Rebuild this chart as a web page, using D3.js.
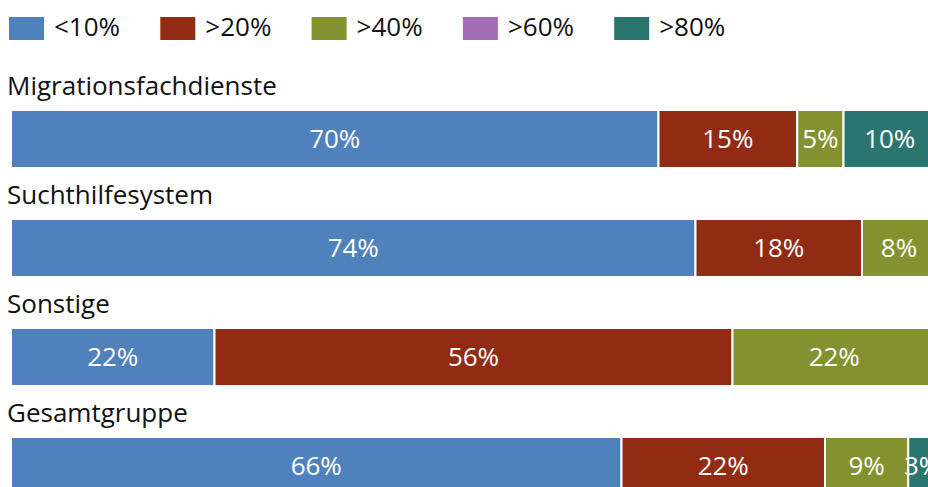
<!DOCTYPE html>
<html>
<head>
<meta charset="utf-8">
<script src="https://cdn.jsdelivr.net/npm/d3@7"></script>
<style>
  body { margin: 0; background: #fff; overflow: hidden; }
  text { font-family: "Open Sans", sans-serif; }
</style>
</head>
<body>
<div id="chart"></div>
<script>
// data
var groups = ["Migrationsfachdienste", "Suchthilfesystem", "Sonstige", "Gesamtgruppe"];
var keys = ["<10%", ">20%", ">40%", ">60%", ">80%"];
var colors = ["#4f81bd", "#922b14", "#83922f", "#a26db4", "#2b7570"];
var lt10 = [70, 74, 22, 66];
var gt20 = [15, 18, 56, 22];
var gt40 = [5, 8, 22, 9];
var gt60 = [0, 0, 0, 0];
var gt80 = [10, 0, 0, 3];

function init(){
    var w = 928, h = 487;
    var fs = 26; // font size used everywhere
    var series = [lt10, gt20, gt40, gt60, gt80];

    // build rows for d3.stack
    var rows = groups.map(function(g, i){
        var r = {group: g};
        keys.forEach(function(k, j){ r[k] = series[j][i]; });
        return r;
    });
    var stacked = d3.stack().keys(keys)(rows);

    var x = d3.scaleLinear().domain([0, 100]).range([11, 936]);
    // step 109px, bar 58px
    var y = d3.scaleBand().domain(groups).range([110, 546])
              .paddingInner(0.468).paddingOuter(0.234).align(0);
    var color = d3.scaleOrdinal().domain(keys).range(colors);

    var svg = d3.select("#chart").append("svg")
                .attr("width", w)
                .attr("height", h);

    // legend
    var legend = svg.selectAll("g.legend")
                    .data(keys)
                    .enter().append("g")
                    .attr("class", "legend")
                    .attr("transform", function(d, i){ return "translate(" + (9 + i * 151.3) + ",17)"; });
    legend.append("rect")
          .attr("width", 35).attr("height", 23)
          .attr("fill", function(d){ return color(d); });
    legend.append("text")
          .attr("x", 45).attr("y", 19)
          .attr("font-size", fs)
          .attr("fill", "#111")
          .text(function(d){ return d; });

    // group labels
    svg.selectAll("text.group")
       .data(groups)
       .enter().append("text")
       .attr("class", "group")
       .attr("x", 7)
       .attr("y", function(d){ return y(d) - 15; })
       .attr("font-size", fs)
       .attr("fill", "#111")
       .text(function(d){ return d; });

    // bars
    var layer = svg.selectAll("g.layer")
                   .data(stacked)
                   .enter().append("g")
                   .attr("class", "layer")
                   .attr("fill", function(d){ return color(d.key); });

    var seg = layer.selectAll("g.seg")
                   .data(function(d){ return d.filter(function(s){ return s[1] - s[0] > 0; }); })
                   .enter().append("g")
                   .attr("class", "seg");

    seg.append("rect")
       .attr("x", function(d){ return x(d[0]); })
       .attr("y", function(d){ return y(d.data.group); })
       .attr("width", function(d){ return x(d[1]) - x(d[0]); })
       .attr("height", y.bandwidth())
       .attr("stroke", "#fff")
       .attr("stroke-width", 2);

    seg.append("text")
       .attr("x", function(d){ return (x(d[0]) + x(d[1])) / 2; })
       .attr("y", function(d){ return y(d.data.group) + y.bandwidth() / 2 + 9.5; })
       .attr("text-anchor", "middle")
       .attr("font-size", fs)
       .attr("fill", "#fff")
       .text(function(d){ return (d[1] - d[0]) + "%"; });
}
window.onload = init;
</script>
</body>
</html>
